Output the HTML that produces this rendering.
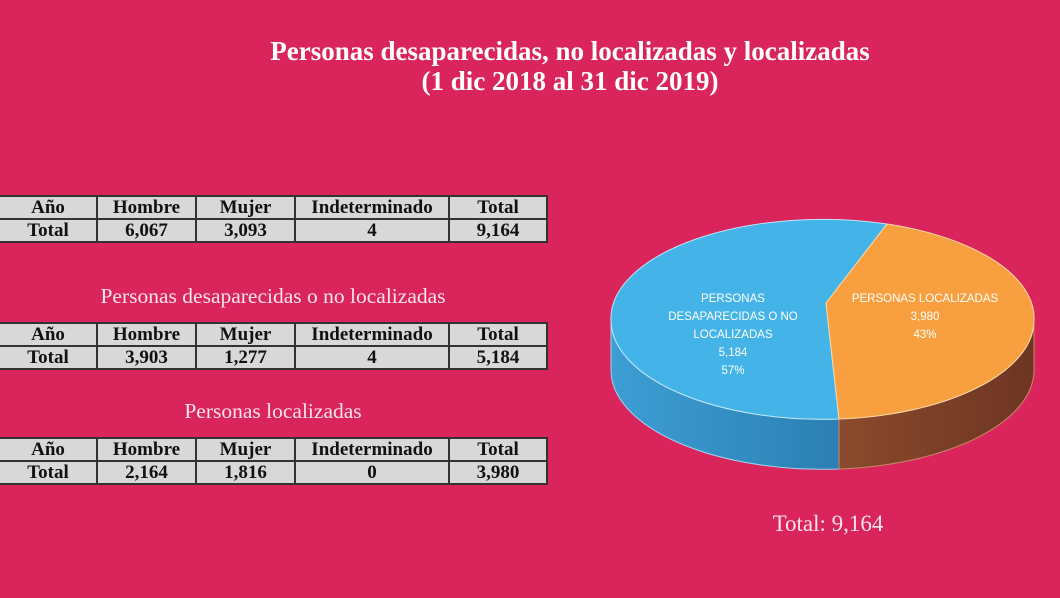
<!DOCTYPE html>
<html><head><meta charset="utf-8"><style>
body{margin:0;width:1060px;height:598px;overflow:hidden;background:#da245c;font-family:"Liberation Serif",serif;position:relative}
.t{position:absolute;color:#fff;text-align:center}
table{position:absolute;left:-2px;border-collapse:collapse;background:#d8d8d8}
td{border:2px solid #333;height:21px;padding:0;text-align:center;font-weight:bold;font-size:19px;color:#111;line-height:20px}
</style></head><body>
<div class="t" style="left:170px;width:800px;top:36px;font-weight:bold;font-size:27px;line-height:30px">Personas desaparecidas, no localizadas y localizadas<br>(1 dic 2018 al 31 dic 2019)</div>

<table style="top:195px"><tr><td style="width:96px">Año</td><td style="width:97px">Hombre</td><td style="width:97px">Mujer</td><td style="width:152px">Indeterminado</td><td style="width:96px">Total</td></tr>
<tr><td>Total</td><td>6,067</td><td>3,093</td><td>4</td><td>9,164</td></tr></table>

<div class="t" style="left:0;width:546px;top:284px;font-size:21.5px;color:#fbe3ea">Personas desaparecidas o no localizadas</div>
<table style="top:322px"><tr><td style="width:96px">Año</td><td style="width:97px">Hombre</td><td style="width:97px">Mujer</td><td style="width:152px">Indeterminado</td><td style="width:96px">Total</td></tr>
<tr><td>Total</td><td>3,903</td><td>1,277</td><td>4</td><td>5,184</td></tr></table>

<div class="t" style="left:0;width:546px;top:399px;font-size:21.5px;color:#fbe3ea">Personas localizadas</div>
<table style="top:437px"><tr><td style="width:96px">Año</td><td style="width:97px">Hombre</td><td style="width:97px">Mujer</td><td style="width:152px">Indeterminado</td><td style="width:96px">Total</td></tr>
<tr><td>Total</td><td>2,164</td><td>1,816</td><td>0</td><td>3,980</td></tr></table>

<svg style="position:absolute;left:0;top:0" width="1060" height="598">
<defs>
<linearGradient id="bs" x1="0" x2="1"><stop offset="0" stop-color="#3d9ed4"/><stop offset="1" stop-color="#2b7fb3"/></linearGradient>
<linearGradient id="os" x1="0" x2="1"><stop offset="0" stop-color="#8a4a2c"/><stop offset="1" stop-color="#6e3522"/></linearGradient>
</defs>
<path d="M611,321 L611,371 A212,99 0 0 0 839,469 L839,419 A212,99 0 0 1 611,321 Z" fill="url(#bs)" stroke="#9fd4f0" stroke-width="1"/>
<path d="M839,419 L839,469 A212,99 0 0 0 1034,371 L1034,321 A212,99 0 0 1 839,419 Z" fill="url(#os)" stroke="#c98a6a" stroke-width="1"/>
<path d="M826,303 L887,224 A212,99 0 0 0 611,321 A212,99 0 0 0 839,419 Z" fill="#44b4e8" stroke="#bfe6f8" stroke-width="1"/>
<path d="M826,303 L887,224 A212,99 0 0 1 1034,321 A212,99 0 0 1 839,419 Z" fill="#f8a040" stroke="#fcd9a8" stroke-width="1"/>
<g font-family="Liberation Sans,sans-serif" font-size="11.5" fill="#fff" text-anchor="middle">
<text x="733" y="302">PERSONAS</text>
<text x="733" y="320">DESAPARECIDAS O NO</text>
<text x="733" y="338">LOCALIZADAS</text>
<text x="733" y="356">5,184</text>
<text x="733" y="374">57%</text>
<text x="925" y="302">PERSONAS LOCALIZADAS</text>
<text x="925" y="320">3,980</text>
<text x="925" y="338">43%</text>
</g>
<text x="828" y="531" font-family="Liberation Serif,serif" font-size="23" fill="#fbe3ea" text-anchor="middle">Total: 9,164</text>
</svg>
</body></html>
